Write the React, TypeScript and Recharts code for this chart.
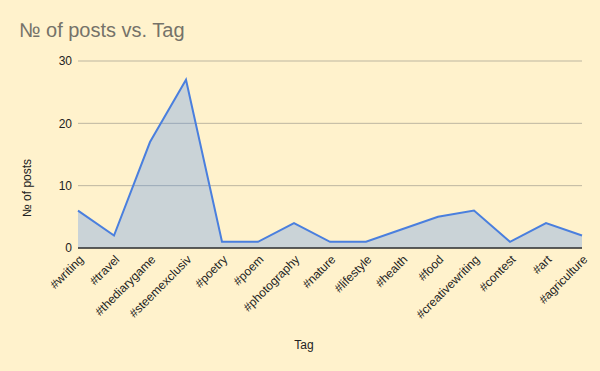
import React from "react";
import { Area, AreaChart, CartesianGrid, XAxis, YAxis } from "recharts";

const TAGS = [
  "#writing",
  "#travel",
  "#thediarygame",
  "#steemexclusiv",
  "#poetry",
  "#poem",
  "#photography",
  "#nature",
  "#lifestyle",
  "#health",
  "#food",
  "#creativewriting",
  "#contest",
  "#art",
  "#agriculture",
];
const POSTS = [6, 2, 17, 27, 1, 1, 4, 1, 1, 3, 5, 6, 1, 4, 2];
const Y_TICKS = [0, 10, 20, 30];

const data = TAGS.map((tag, i) => ({ tag, posts: POSTS[i] }));

const FONT = "Arial, 'Liberation Sans', sans-serif";

const TagTick = ({ x, y, payload }: any) => (
  <g transform={`translate(${x + 4},${y + 2})`}>
    <text
      transform="rotate(-45)"
      textAnchor="end"
      dominantBaseline="middle"
      fontSize={12}
      fontFamily={FONT}
      fill="#222"
    >
      {payload.value}
    </text>
  </g>
);

const App = () => {
  return (
    <div
      style={{
        position: "absolute",
        left: 0,
        top: 0,
        width: 600,
        height: 371,
        background: "#fff2cc",
        fontFamily: FONT,
      }}
    >
      <div
        style={{
          position: "absolute",
          left: 19,
          top: 19,
          fontSize: 20,
          color: "#757269",
          whiteSpace: "nowrap",
        }}
      >
        № of posts vs. Tag
      </div>
      <AreaChart
        width={600}
        height={371}
        data={data}
        margin={{ top: 61, right: 18, left: 0, bottom: 0 }}
      >
        <CartesianGrid vertical={false} stroke="#bdb6a0" />
        <XAxis
          dataKey="tag"
          interval={0}
          height={123}
          tick={<TagTick />}
          tickLine={false}
          axisLine={{ stroke: "#333", strokeWidth: 1.5 }}
          padding={{ left: 0, right: 0 }}
          label={{
            value: "Tag",
            position: "insideBottom",
            offset: 22,
            dx: -26,
            fontSize: 12,
            fill: "#222",
          }}
        />
        <YAxis
          width={78}
          domain={[0, 30]}
          ticks={Y_TICKS}
          tickLine={false}
          axisLine={false}
          tickSize={4}
          tickMargin={2}
          tick={{ fontSize: 12, fill: "#222", fontFamily: FONT }}
          label={{
            content: () => (
              <text
                transform="translate(31,188) rotate(-90)"
                textAnchor="middle"
                fontSize={12}
                fontFamily={FONT}
                fill="#222"
              >
                № of posts
              </text>
            ),
          }}
        />
        <Area
          type="linear"
          dataKey="posts"
          stroke="#4a7fde"
          strokeWidth={2}
          fill="#4285f4"
          fillOpacity={0.28}
          dot={false}
          activeDot={false}
          isAnimationActive={false}
        />
      </AreaChart>
    </div>
  );
};

export default App;
